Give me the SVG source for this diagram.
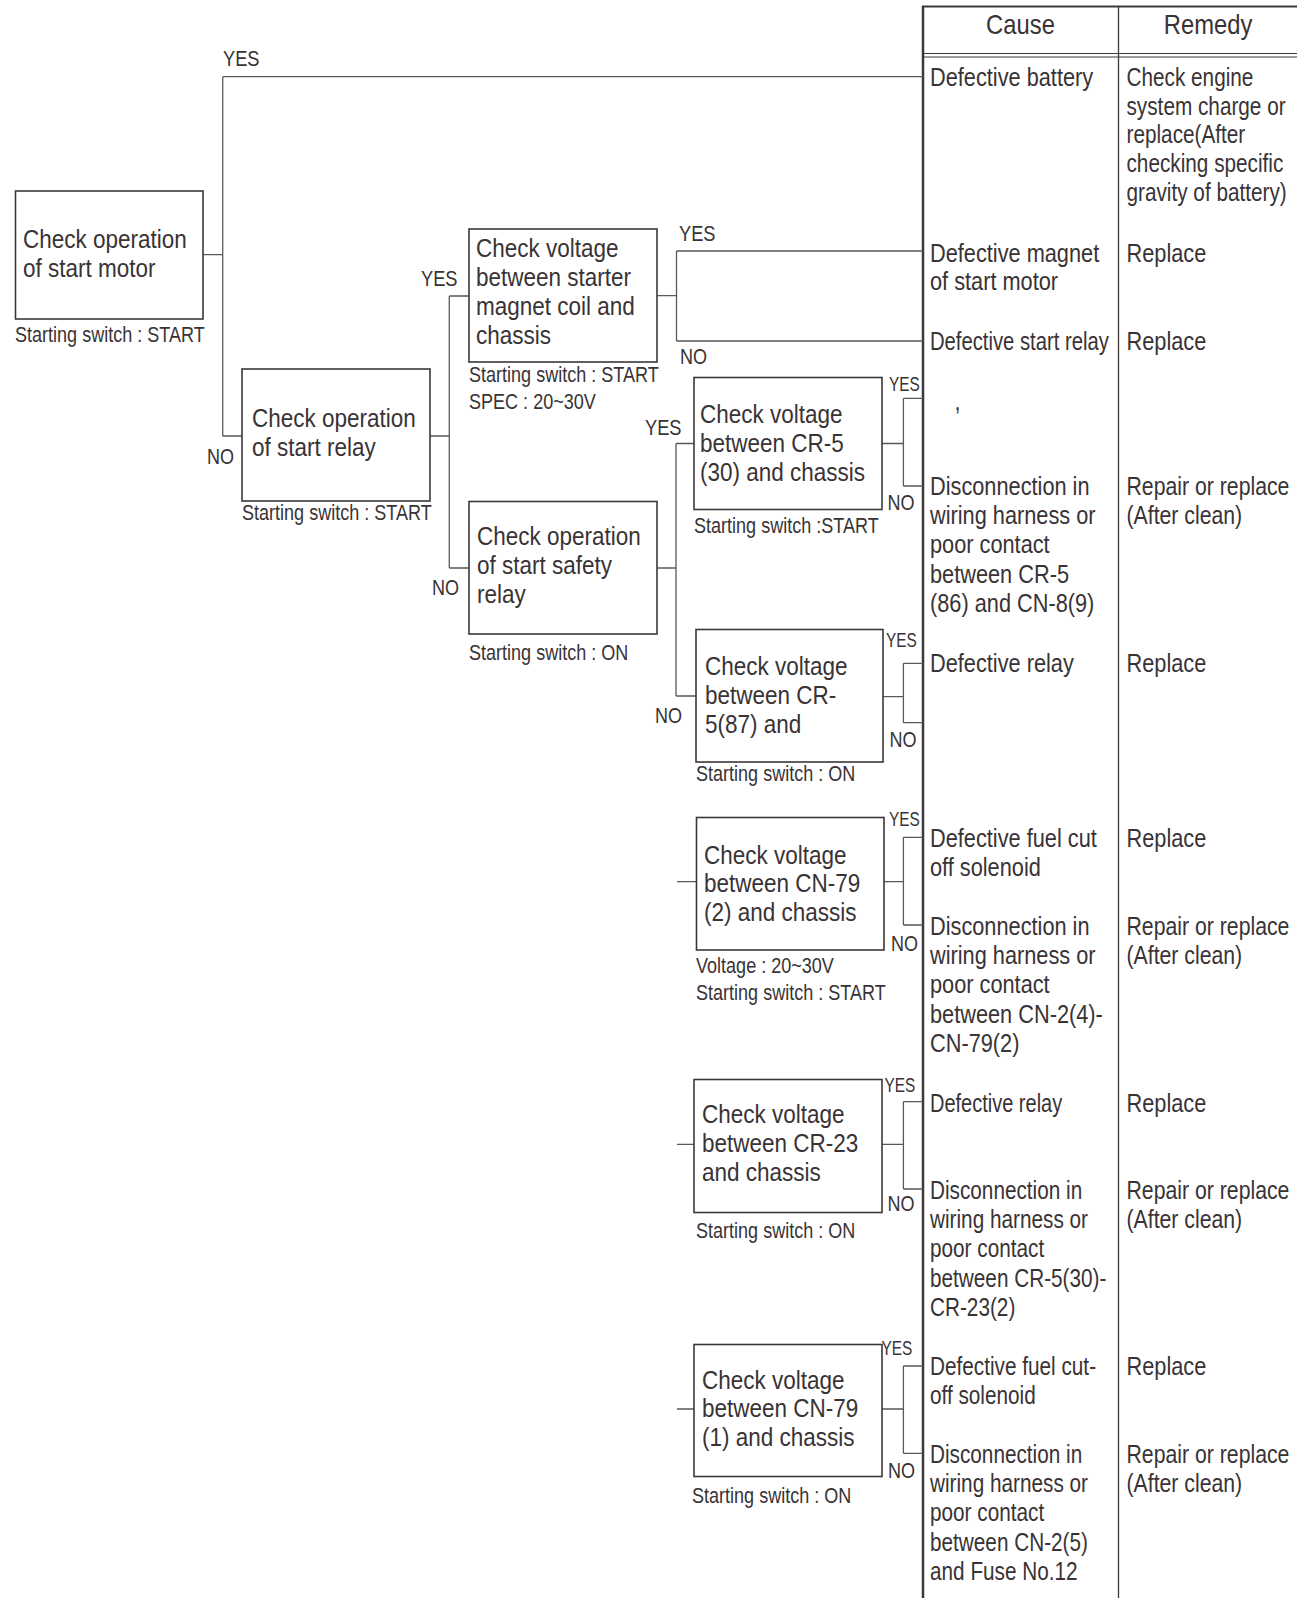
<svg xmlns="http://www.w3.org/2000/svg" width="1297" height="1598" viewBox="0 0 1297 1598">
<style>
text{font-family:"Liberation Sans",Arial,sans-serif;fill:#393335}
.n{font-size:25px}
.t{font-size:25px}
.c{font-size:22px}
.l{font-size:22px}
.ys{font-size:20px}
.h{font-size:28px;text-anchor:middle}
.box{fill:#fff;stroke:#3d3739;stroke-width:1.6}
.con path{fill:none;stroke:#5c5759;stroke-width:1.3}
.tl{fill:none;stroke:#3d3739}
</style>
<rect x="0" y="0" width="1297" height="1598" fill="#fff"/>

<g id="table">
<path class="tl" d="M923 6V1598" stroke-width="2.5"/>
<path class="tl" d="M922 6.5H1297" stroke-width="2"/>
<path class="tl" d="M1118.5 6V1598" stroke-width="1.3"/>
<path class="tl" d="M923 53.5H1297M923 57H1297" stroke-width="1"/>
<text class="h" transform="translate(1020.5,33.5) scale(.85,1)">Cause</text>
<text class="h" transform="translate(1208,33.5) scale(.85,1)">Remedy</text>

<text class="t" transform="translate(930,86) scale(.87,1)">Defective battery</text>
<text class="t" transform="translate(1126.5,86) scale(.83,1)"><tspan x="0" y="0">Check engine</tspan><tspan x="0" y="28.7">system charge or</tspan><tspan x="0" y="57.4">replace(After</tspan><tspan x="0" y="86.1">checking specific</tspan><tspan x="0" y="114.8">gravity of battery)</tspan></text>

<text class="t" transform="translate(930,262) scale(.87,1)"><tspan x="0" y="0">Defective magnet</tspan><tspan x="0" y="28.5">of start motor</tspan></text>
<text class="t" transform="translate(1126.5,262) scale(.87,1)">Replace</text>

<text class="t" transform="translate(930,350) scale(.81,1)">Defective start relay</text>
<text class="t" transform="translate(1126.5,350) scale(.87,1)">Replace</text>

<text class="t" transform="translate(954.5,410) scale(.87,1)">,</text>

<text class="t" transform="translate(930,495) scale(.87,1)"><tspan x="0" y="0">Disconnection in</tspan><tspan x="0" y="29.2">wiring harness or</tspan><tspan x="0" y="58.4">poor contact</tspan><tspan x="0" y="87.6">between CR-5</tspan><tspan x="0" y="116.8">(86) and CN-8(9)</tspan></text>
<text class="t" transform="translate(1126.5,495) scale(.85,1)"><tspan x="0" y="0">Repair or replace</tspan><tspan x="0" y="29.2">(After clean)</tspan></text>

<text class="t" transform="translate(930,672) scale(.87,1)">Defective relay</text>
<text class="t" transform="translate(1126.5,672) scale(.87,1)">Replace</text>

<text class="t" transform="translate(930,847) scale(.87,1)"><tspan x="0" y="0">Defective fuel cut</tspan><tspan x="0" y="29.2">off solenoid</tspan></text>
<text class="t" transform="translate(1126.5,847) scale(.87,1)">Replace</text>

<text class="t" transform="translate(930,935) scale(.87,1)"><tspan x="0" y="0">Disconnection in</tspan><tspan x="0" y="29.2">wiring harness or</tspan><tspan x="0" y="58.4">poor contact</tspan><tspan x="0" y="87.6">between CN-2(4)-</tspan><tspan x="0" y="116.8">CN-79(2)</tspan></text>
<text class="t" transform="translate(1126.5,935) scale(.85,1)"><tspan x="0" y="0">Repair or replace</tspan><tspan x="0" y="29.2">(After clean)</tspan></text>

<text class="t" transform="translate(930,1112) scale(.8,1)">Defective relay</text>
<text class="t" transform="translate(1126.5,1112) scale(.87,1)">Replace</text>

<text class="t" transform="translate(930,1198.5) scale(.83,1)"><tspan x="0" y="0">Disconnection in</tspan><tspan x="0" y="29.4">wiring harness or</tspan><tspan x="0" y="58.8">poor contact</tspan><tspan x="0" y="88.2">between CR-5(30)-</tspan><tspan x="0" y="117.6">CR-23(2)</tspan></text>
<text class="t" transform="translate(1126.5,1198.5) scale(.85,1)"><tspan x="0" y="0">Repair or replace</tspan><tspan x="0" y="29.2">(After clean)</tspan></text>

<text class="t" transform="translate(930,1375) scale(.83,1)"><tspan x="0" y="0">Defective fuel cut-</tspan><tspan x="0" y="28.8">off solenoid</tspan></text>
<text class="t" transform="translate(1126.5,1375) scale(.87,1)">Replace</text>

<text class="t" transform="translate(930,1463) scale(.83,1)"><tspan x="0" y="0">Disconnection in</tspan><tspan x="0" y="29.2">wiring harness or</tspan><tspan x="0" y="58.4">poor contact</tspan><tspan x="0" y="87.6">between CN-2(5)</tspan><tspan x="0" y="116.8">and Fuse No.12</tspan></text>
<text class="t" transform="translate(1126.5,1463) scale(.85,1)"><tspan x="0" y="0">Repair or replace</tspan><tspan x="0" y="29.2">(After clean)</tspan></text>
</g>

<g id="connectors" class="con">
<path d="M203 254.7H222.7M222.7 76.7V436M222.7 76.7H923M222.7 436H242"/>
<path d="M430 436H449.3M449.3 296V568M449.3 296H469M449.3 568H469"/>
<path d="M657 295.7H676.5M676.5 251V341M676.5 251H923M676.5 341H923"/>
<path d="M657 568H676M676 443.5V696M676 443.5H694M676 696H696"/>
<path d="M882 443.5H903.4M903.4 398.3V486M903.4 398.3H923M903.4 486H923"/>
<path d="M883 696.7H903.4M903.4 663.3V722.7M903.4 663.3H923M903.4 722.7H923"/>
<path d="M677 881.7H696.5M884 881.7H903.4M903.4 837.3V925M903.4 837.3H923M903.4 925H923"/>
<path d="M677 1144.3H694M882 1144.3H903.4M903.4 1101.7V1189M903.4 1101.7H923M903.4 1189H923"/>
<path d="M677 1409H694M882 1409H903.4M903.4 1366V1453.3M903.4 1366H923M903.4 1453.3H923"/>
<text class="l" transform="translate(223,66) scale(.83,1)">YES</text>
<text class="l" transform="translate(207,464) scale(.82,1)">NO</text>
<text class="l" transform="translate(421,286) scale(.83,1)">YES</text>
<text class="l" transform="translate(432,595) scale(.82,1)">NO</text>
<text class="l" transform="translate(679,241) scale(.83,1)">YES</text>
<text class="l" transform="translate(680,364) scale(.82,1)">NO</text>
<text class="l" transform="translate(645,435) scale(.83,1)">YES</text>
<text class="l" transform="translate(655,723) scale(.82,1)">NO</text>
<text class="ys" transform="translate(889,391) scale(.77,1)">YES</text>
<text class="l" transform="translate(887.5,510) scale(.82,1)">NO</text>
<text class="ys" transform="translate(886,647) scale(.77,1)">YES</text>
<text class="l" transform="translate(889.5,747) scale(.82,1)">NO</text>
<text class="ys" transform="translate(889,826) scale(.77,1)">YES</text>
<text class="l" transform="translate(891,951) scale(.82,1)">NO</text>
<text class="ys" transform="translate(884.5,1092) scale(.77,1)">YES</text>
<text class="l" transform="translate(887.5,1211) scale(.82,1)">NO</text>
<text class="ys" transform="translate(881.5,1355) scale(.77,1)">YES</text>
<text class="l" transform="translate(888,1478) scale(.82,1)">NO</text>
</g>

<g id="n1">
<rect class="box" x="15.5" y="191" width="187.5" height="128"/>
<text class="n" transform="translate(23,248) scale(.9,1)"><tspan x="0" y="0">Check operation</tspan><tspan x="0" y="29">of start motor</tspan></text>
<text class="c" transform="translate(15,342) scale(.82,1)">Starting switch : START</text>
</g>

<g id="n2">
<rect class="box" x="242" y="369" width="188" height="132"/>
<text class="n" transform="translate(252,427) scale(.9,1)"><tspan x="0" y="0">Check operation</tspan><tspan x="0" y="29.5">of start relay</tspan></text>
<text class="c" transform="translate(242,520) scale(.82,1)">Starting switch : START</text>
</g>

<g id="n3">
<rect class="box" x="469" y="229" width="188" height="133"/>
<text class="n" transform="translate(476,257) scale(.9,1)"><tspan x="0" y="0">Check voltage</tspan><tspan x="0" y="29">between starter</tspan><tspan x="0" y="58">magnet coil and</tspan><tspan x="0" y="87">chassis</tspan></text>
<text class="c" transform="translate(469,382) scale(.82,1)">Starting switch : START</text>
<text class="c" transform="translate(469,409) scale(.82,1)">SPEC : 20~30V</text>
</g>

<g id="n4">
<rect class="box" x="469" y="501.5" width="188" height="132.5"/>
<text class="n" transform="translate(477,545) scale(.9,1)"><tspan x="0" y="0">Check operation</tspan><tspan x="0" y="29">of start safety</tspan><tspan x="0" y="58">relay</tspan></text>
<text class="c" transform="translate(469,660) scale(.82,1)">Starting switch : ON</text>
</g>

<g id="n5">
<rect class="box" x="694" y="377.5" width="188" height="132"/>
<text class="n" transform="translate(700,423) scale(.9,1)"><tspan x="0" y="0">Check voltage</tspan><tspan x="0" y="29">between CR-5</tspan><tspan x="0" y="58">(30) and chassis</tspan></text>
<text class="c" transform="translate(694,533) scale(.82,1)">Starting switch :START</text>
</g>

<g id="n6">
<rect class="box" x="696" y="629.5" width="187" height="132.5"/>
<text class="n" transform="translate(705,675) scale(.9,1)"><tspan x="0" y="0">Check voltage</tspan><tspan x="0" y="29">between CR-</tspan><tspan x="0" y="58">5(87) and</tspan></text>
<text class="c" transform="translate(696,781) scale(.82,1)">Starting switch : ON</text>
</g>

<g id="n7">
<rect class="box" x="696.5" y="817.5" width="187.5" height="132.5"/>
<text class="n" transform="translate(704,863.5) scale(.9,1)"><tspan x="0" y="0">Check voltage</tspan><tspan x="0" y="29">between CN-79</tspan><tspan x="0" y="58">(2) and chassis</tspan></text>
<text class="c" transform="translate(696,973) scale(.82,1)">Voltage : 20~30V</text>
<text class="c" transform="translate(696,1000) scale(.82,1)">Starting switch : START</text>
</g>

<g id="n8">
<rect class="box" x="694" y="1079.5" width="188" height="133"/>
<text class="n" transform="translate(702,1123) scale(.9,1)"><tspan x="0" y="0">Check voltage</tspan><tspan x="0" y="29">between CR-23</tspan><tspan x="0" y="58">and chassis</tspan></text>
<text class="c" transform="translate(696,1238) scale(.82,1)">Starting switch : ON</text>
</g>

<g id="n9">
<rect class="box" x="694" y="1344.5" width="188" height="132"/>
<text class="n" transform="translate(702,1388.5) scale(.9,1)"><tspan x="0" y="0">Check voltage</tspan><tspan x="0" y="29">between CN-79</tspan><tspan x="0" y="58">(1) and chassis</tspan></text>
<text class="c" transform="translate(692,1503) scale(.82,1)">Starting switch : ON</text>
</g>
</svg>
